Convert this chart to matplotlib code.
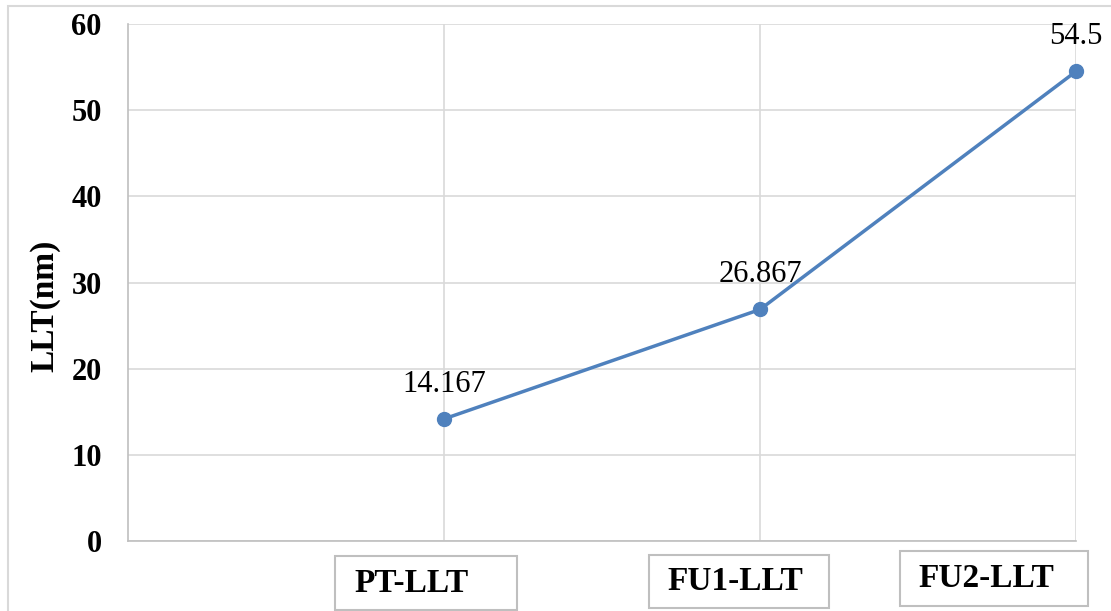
import matplotlib
matplotlib.use("Agg")
import matplotlib.pyplot as plt
from matplotlib.patches import Rectangle

# data
categories = ["PT-LLT", "FU1-LLT", "FU2-LLT"]
positions = [1, 2, 3]
llt_values = [14.167, 26.867, 54.5]
value_labels = ["14.167", "26.867", "54.5"]
y_ticks = [0, 10, 20, 30, 40, 50, 60]

W, H = 1111, 611
plt.rcParams["font.family"] = ["Liberation Serif", "DejaVu Serif"]

fig = plt.figure(figsize=(W / 100, H / 100), dpi=100)
ax = fig.add_axes([128 / W, 1 - 541 / H, 948 / W, 517 / H])

line_color = "#4f81bd"
ax.plot(positions, llt_values, color=line_color, lw=2.5, marker="o",
        markersize=10, zorder=3, clip_on=False)

for x, y, s in zip(positions, llt_values, value_labels):
    ax.annotate(s, (x, y), textcoords="offset points", xytext=(0, 25),
                ha="center", va="center", fontsize=22, color="black")

ax.set_xlim(0, 3)
ax.set_ylim(0, 60)
ax.set_yticks(y_ticks)
ax.set_yticklabels([str(t) for t in y_ticks], fontsize=22, fontweight="bold")
ax.set_xticks(positions)
ax.set_xticklabels([])
ax.tick_params(length=0)
ax.tick_params(axis="y", pad=19)
ax.grid(True, color="#d9d9d9", lw=1.2)
ax.set_axisbelow(True)
for side in ["top", "right"]:
    ax.spines[side].set_visible(False)
for side in ["left", "bottom"]:
    ax.spines[side].set_color("#bfbfbf")
    ax.spines[side].set_linewidth(1.2)

ax.text(-83 / 948, 0.455, "LLT(nm)", transform=ax.transAxes, rotation=90,
        ha="center", va="center", fontsize=24, fontweight="bold")

# category labels in boxes below the axis
boxes = [(335, 556, 517, 610), (649, 555, 829, 608), (900, 551, 1088, 606)]
text_left = [354, 667, 918]
for (x0, y0, x1, y1), tx, lab in zip(boxes, text_left, categories):
    fig.add_artist(Rectangle((x0 / W, 1 - y1 / H), (x1 - x0) / W, (y1 - y0) / H,
                             transform=fig.transFigure, fill=False,
                             edgecolor="#bfbfbf", lw=1.5))
    fig.text(tx / W, 1 - (y0 + y1) / 2 / H, lab, ha="left", va="center",
             fontsize=24, fontweight="bold")

# outer chart border
fig.add_artist(Rectangle((8 / W, -0.05), 1.1, 1 - 6 / H + 0.05,
                         transform=fig.transFigure, fill=False,
                         edgecolor="#d9d9d9", lw=1.5))

fig.savefig("out.png", dpi=100)
